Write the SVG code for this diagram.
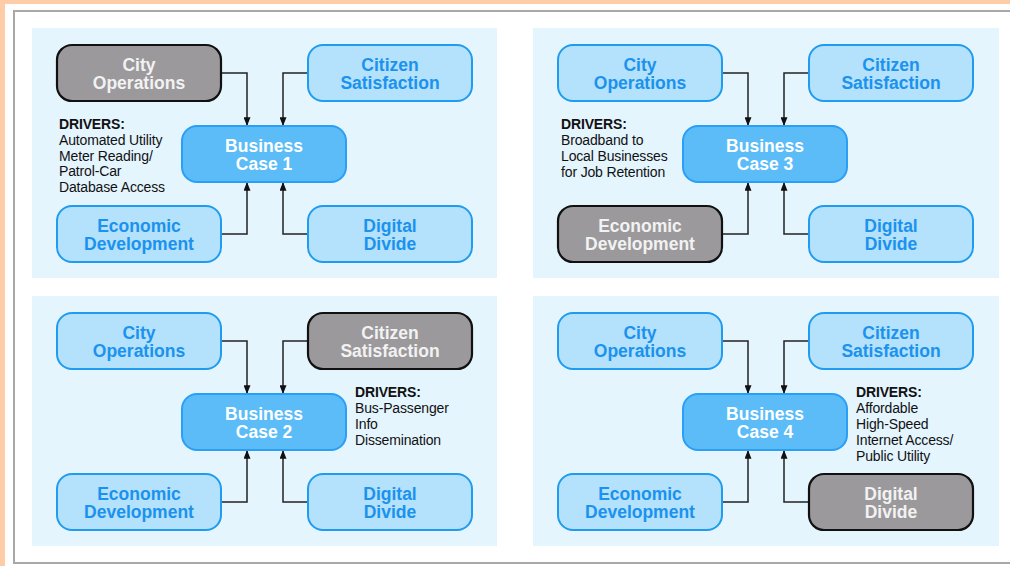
<svg xmlns="http://www.w3.org/2000/svg" width="1010" height="566" viewBox="0 0 1010 566">
<defs>
<style>
.panel{fill:#e5f5fe}
.lt rect{fill:#b4e1fb;stroke:#1f9cf0;stroke-width:2}
.lt text{fill:#1a92ee}
.gr rect{fill:#9b999b;stroke:#111;stroke-width:2.2}
.gr text{fill:#f2f2f2}
.bc rect{fill:#5bbcf8;stroke:#2a9ff5;stroke-width:2}
.bc text{fill:#ffffff}
.node text{font-family:"Liberation Sans",Arial,sans-serif;font-weight:bold;font-size:17.5px;text-anchor:middle}
.drv{font-family:"Liberation Sans",Arial,sans-serif;font-size:14px;fill:#111;letter-spacing:-0.15px}
.drv .h{font-weight:bold}
.conn path{fill:none;stroke:#222;stroke-width:1.5;marker-end:url(#ah)}
</style>
<marker id="ah" viewBox="0 0 10 8" refX="10" refY="4" markerWidth="9" markerHeight="7" markerUnits="userSpaceOnUse" orient="auto">
<path d="M0,0 L10,4 L0,8 z" fill="#111"/>
</marker>
</defs>
<rect x="0" y="0" width="1010" height="566" fill="#ffcca8"/>
<rect x="5" y="4" width="1005" height="562" fill="#ffffff"/>
<rect x="14" y="11" width="1010" height="552" fill="none" stroke="#a8a8a8" stroke-width="2"/>

<rect class="panel" x="32" y="28" width="465" height="250"/>
<rect class="panel" x="533" y="28" width="466" height="250"/>
<rect class="panel" x="32" y="296" width="465" height="250"/>
<rect class="panel" x="533" y="296" width="466" height="250"/>

<g id="connectors" class="conn">
<path d="M221,73 H247 V126"/>
<path d="M308,73 H283 V126"/>
<path d="M221,234 H247 V182"/>
<path d="M308,234 H283 V182"/>
<path d="M722,73 H748 V126"/>
<path d="M809,73 H784 V126"/>
<path d="M722,234 H748 V182"/>
<path d="M809,234 H784 V182"/>
<path d="M221,341 H247 V394"/>
<path d="M308,341 H283 V394"/>
<path d="M221,502 H247 V450"/>
<path d="M308,502 H283 V450"/>
<path d="M722,341 H748 V394"/>
<path d="M809,341 H784 V394"/>
<path d="M722,502 H748 V450"/>
<path d="M809,502 H784 V450"/>
</g>

<!-- Panel 1 -->
<g id="p1-city" class="node gr"><rect x="57" y="45" width="164" height="56" rx="15"/><text x="139" y="71">City</text><text x="139" y="89">Operations</text></g>
<g id="p1-citizen" class="node lt"><rect x="308" y="45" width="164" height="56" rx="15"/><text x="390" y="71">Citizen</text><text x="390" y="89">Satisfaction</text></g>
<g id="p1-business" class="node bc"><rect x="182" y="126" width="164" height="56" rx="15"/><text x="264" y="152">Business</text><text x="264" y="170">Case 1</text></g>
<g id="p1-economic" class="node lt"><rect x="57" y="206" width="164" height="56" rx="15"/><text x="139" y="232">Economic</text><text x="139" y="250">Development</text></g>
<g id="p1-digital" class="node lt"><rect x="308" y="206" width="164" height="56" rx="15"/><text x="390" y="232">Digital</text><text x="390" y="250">Divide</text></g>
<text id="p1-drivers" class="drv" x="59"><tspan class="h" x="59" y="129">DRIVERS:</tspan><tspan x="59" y="145">Automated Utility</tspan><tspan x="59" y="161">Meter Reading/</tspan><tspan x="59" y="176">Patrol-Car</tspan><tspan x="59" y="192">Database Access</tspan></text>

<!-- Panel 3 (top right) -->
<g id="p3-city" class="node lt"><rect x="558" y="45" width="164" height="56" rx="15"/><text x="640" y="71">City</text><text x="640" y="89">Operations</text></g>
<g id="p3-citizen" class="node lt"><rect x="809" y="45" width="164" height="56" rx="15"/><text x="891" y="71">Citizen</text><text x="891" y="89">Satisfaction</text></g>
<g id="p3-business" class="node bc"><rect x="683" y="126" width="164" height="56" rx="15"/><text x="765" y="152">Business</text><text x="765" y="170">Case 3</text></g>
<g id="p3-economic" class="node gr"><rect x="558" y="206" width="164" height="56" rx="15"/><text x="640" y="232">Economic</text><text x="640" y="250">Development</text></g>
<g id="p3-digital" class="node lt"><rect x="809" y="206" width="164" height="56" rx="15"/><text x="891" y="232">Digital</text><text x="891" y="250">Divide</text></g>
<text id="p3-drivers" class="drv"><tspan class="h" x="561" y="129">DRIVERS:</tspan><tspan x="561" y="145">Broadband to</tspan><tspan x="561" y="161">Local Businesses</tspan><tspan x="561" y="177">for Job Retention</tspan></text>

<!-- Panel 2 (bottom left) -->
<g id="p2-city" class="node lt"><rect x="57" y="313" width="164" height="56" rx="15"/><text x="139" y="339">City</text><text x="139" y="357">Operations</text></g>
<g id="p2-citizen" class="node gr"><rect x="308" y="313" width="164" height="56" rx="15"/><text x="390" y="339">Citizen</text><text x="390" y="357">Satisfaction</text></g>
<g id="p2-business" class="node bc"><rect x="182" y="394" width="164" height="56" rx="15"/><text x="264" y="420">Business</text><text x="264" y="438">Case 2</text></g>
<g id="p2-economic" class="node lt"><rect x="57" y="474" width="164" height="56" rx="15"/><text x="139" y="500">Economic</text><text x="139" y="518">Development</text></g>
<g id="p2-digital" class="node lt"><rect x="308" y="474" width="164" height="56" rx="15"/><text x="390" y="500">Digital</text><text x="390" y="518">Divide</text></g>
<text id="p2-drivers" class="drv"><tspan class="h" x="355" y="397">DRIVERS:</tspan><tspan x="355" y="413">Bus-Passenger</tspan><tspan x="355" y="429">Info</tspan><tspan x="355" y="445">Dissemination</tspan></text>

<!-- Panel 4 (bottom right) -->
<g id="p4-city" class="node lt"><rect x="558" y="313" width="164" height="56" rx="15"/><text x="640" y="339">City</text><text x="640" y="357">Operations</text></g>
<g id="p4-citizen" class="node lt"><rect x="809" y="313" width="164" height="56" rx="15"/><text x="891" y="339">Citizen</text><text x="891" y="357">Satisfaction</text></g>
<g id="p4-business" class="node bc"><rect x="683" y="394" width="164" height="56" rx="15"/><text x="765" y="420">Business</text><text x="765" y="438">Case 4</text></g>
<g id="p4-economic" class="node lt"><rect x="558" y="474" width="164" height="56" rx="15"/><text x="640" y="500">Economic</text><text x="640" y="518">Development</text></g>
<g id="p4-digital" class="node gr"><rect x="809" y="474" width="164" height="56" rx="15"/><text x="891" y="500">Digital</text><text x="891" y="518">Divide</text></g>
<text id="p4-drivers" class="drv"><tspan class="h" x="856" y="397">DRIVERS:</tspan><tspan x="856" y="413">Affordable</tspan><tspan x="856" y="429">High-Speed</tspan><tspan x="856" y="445">Internet Access/</tspan><tspan x="856" y="461">Public Utility</tspan></text>
</svg>
